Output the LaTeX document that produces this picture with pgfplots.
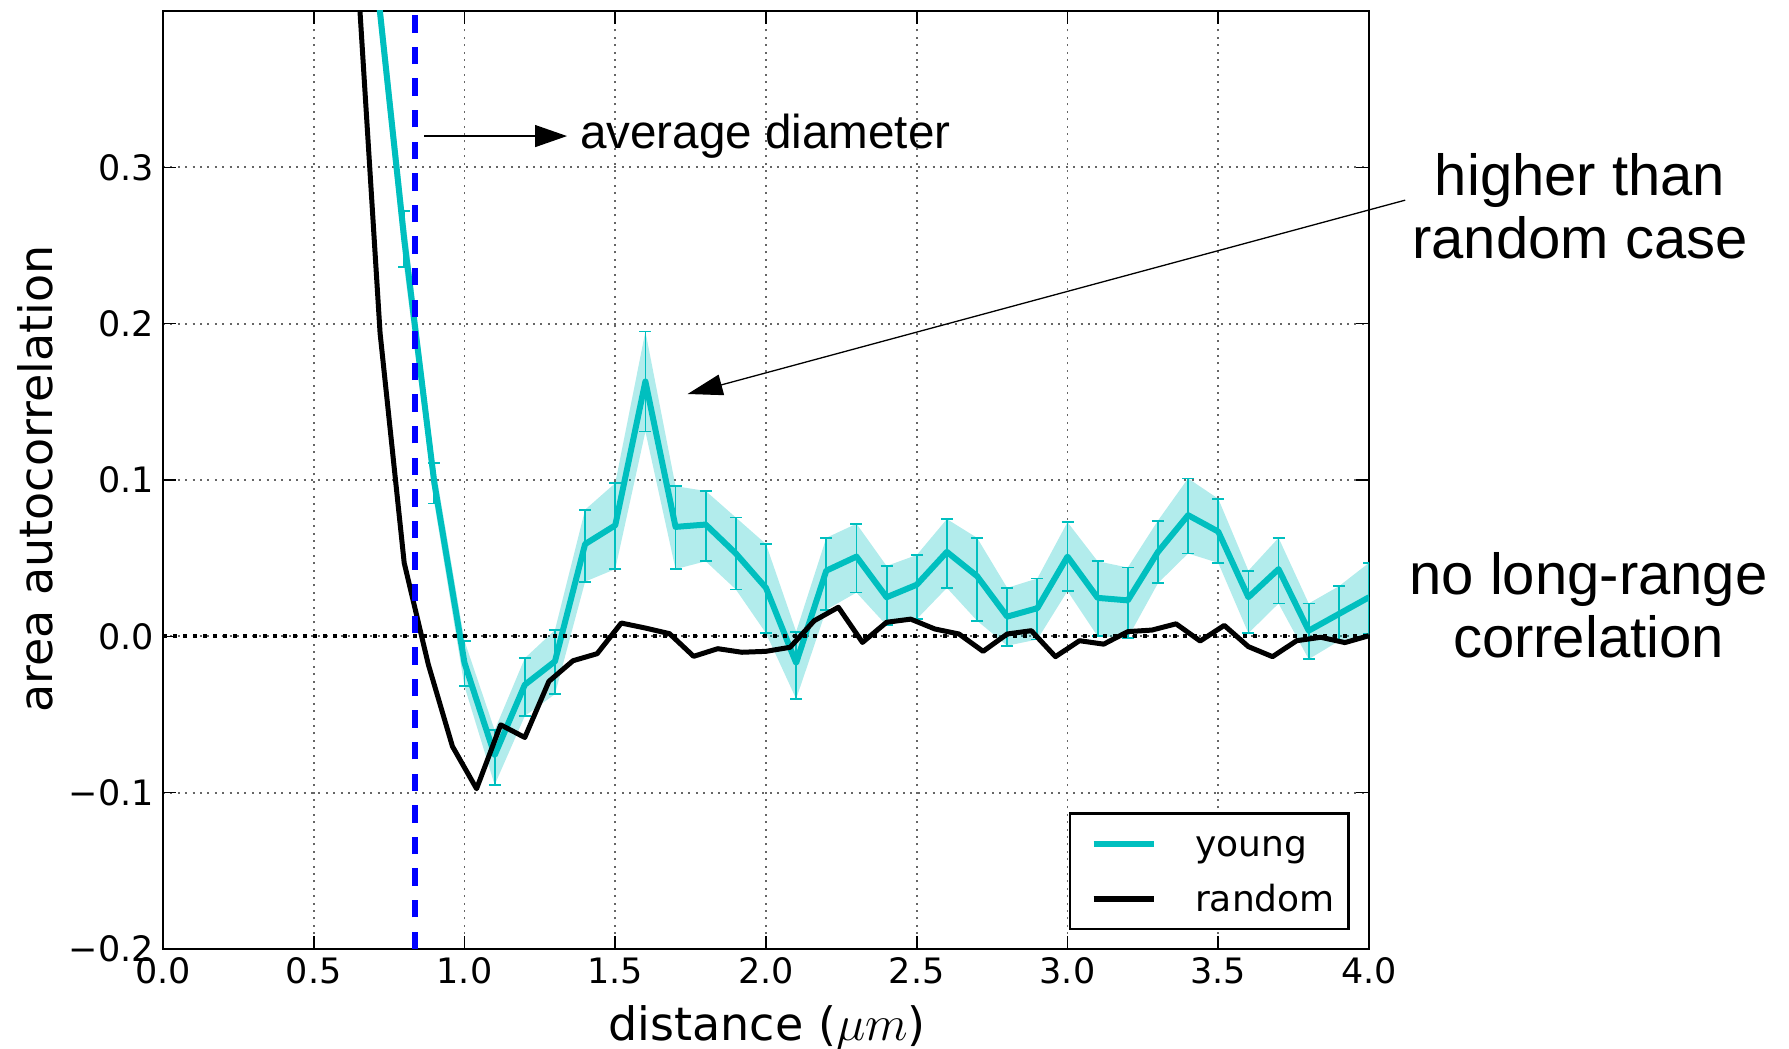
\documentclass[border=0pt]{standalone}
\usepackage{fontspec}
\setmainfont{DejaVu Sans}
\newfontfamily\arial{Liberation Sans}
\usepackage{pgfplots}
\pgfplotsset{compat=1.18}
\usepackage{pgfplotstable}
\usepgfplotslibrary{fillbetween}
\usetikzlibrary{arrows.meta}
\definecolor{mplc}{rgb}{0,0.75,0.75}

\pgfplotstableread{
x y lo hi
0.6 0.620 0.605 0.635
0.7 0.435 0.418 0.452
0.8 0.254 0.236 0.272
0.9 0.098 0.085 0.111
1.0 -0.017 -0.032 -0.003
1.1 -0.076 -0.095 -0.060
1.2 -0.031 -0.051 -0.014
1.3 -0.016 -0.037 0.004
1.4 0.059 0.035 0.081
1.5 0.071 0.043 0.098
1.6 0.163 0.131 0.195
1.7 0.070 0.043 0.096
1.8 0.0715 0.048 0.093
1.9 0.053 0.030 0.076
2.0 0.031 0.002 0.059
2.1 -0.017 -0.040 0.003
2.2 0.042 0.017 0.063
2.3 0.051 0.028 0.072
2.4 0.025 0.007 0.045
2.5 0.033 0.011 0.052
2.6 0.054 0.031 0.075
2.7 0.0385 0.010 0.063
2.8 0.0126 -0.006 0.031
2.9 0.018 -0.002 0.037
3.0 0.051 0.029 0.073
3.1 0.0246 0.000 0.048
3.2 0.023 -0.001 0.044
3.3 0.054 0.034 0.074
3.4 0.0775 0.053 0.101
3.5 0.067 0.047 0.088
3.6 0.025 0.002 0.042
3.7 0.043 0.021 0.063
3.8 0.0036 -0.0146 0.021
3.9 0.0143 -0.003 0.032
4.0 0.025 0.0015 0.047
}\young

\pgfplotstableread{
x y
0.56 0.72
0.64 0.441
0.72 0.194
0.80 0.047
0.88 -0.018
0.96 -0.0704
1.04 -0.0975
1.12 -0.0566
1.20 -0.0647
1.28 -0.0288
1.36 -0.0156
1.44 -0.0111
1.52 0.0085
1.60 0.0053
1.68 0.0017
1.76 -0.0128
1.84 -0.0079
1.92 -0.0102
2.00 -0.0096
2.08 -0.0070
2.16 0.0100
2.24 0.0186
2.32 -0.0039
2.40 0.0090
2.48 0.0110
2.56 0.0047
2.64 0.0015
2.72 -0.0096
2.80 0.0015
2.88 0.0036
2.96 -0.0130
3.04 -0.0028
3.12 -0.0050
3.20 0.0030
3.28 0.0040
3.36 0.0080
3.44 -0.0030
3.52 0.0070
3.60 -0.0066
3.68 -0.0130
3.76 -0.0028
3.84 -0.0006
3.92 -0.0040
4.00 0.0004
}\randtab

\begin{document}
\begin{tikzpicture}
\begin{axis}[
  scale only axis, width=603pt, height=469pt,
  at={(0,0)}, anchor=south west,
  xmin=0, xmax=4, ymin=-0.2, ymax=0.4,
  clip mode=individual,
  xtick={0,0.5,1,1.5,2,2.5,3,3.5,4},
  xticklabels={0.0,0.5,1.0,1.5,2.0,2.5,3.0,3.5,4.0},
  ytick={-0.2,-0.1,0,0.1,0.2,0.3},
  yticklabels={−0.2,−0.1,0.0,0.1,0.2,0.3},
  tick align=inside, tick pos=both,
  major tick length=6.5pt,
  tick style={black, line width=0.8pt},
  axis line style={line width=1.2pt},
  grid=major,
  major grid style={black!60, line width=0.9pt, dash pattern=on 1pt off 2.7pt},
  ticklabel style={font=\fontsize{17.5}{20}\selectfont},
  xticklabel style={yshift=-0.8pt},
  yticklabel style={xshift=-1pt},
  xlabel={distance ($\mu m$)},
  ylabel={area autocorrelation},
  label style={font=\fontsize{23}{26}\selectfont},
  xlabel style={at={(axis description cs:0.501,-0.098)}, anchor=base},
  ylabel style={at={(axis description cs:-0.106,0.501)}, anchor=center},
  legend image code/.code={\path (0pt,0pt); \draw[#1] (5.5pt,0pt) -- (35.5pt,0pt);},
  legend cell align=left,
  legend style={at={(rel axis cs:0.984,0.02)}, anchor=south east,
    draw=black, line width=1.3pt, fill=white,
    font=\fontsize{18}{21}\selectfont,
    inner xsep=4.8pt, inner ysep=5.6pt, row sep=8.4pt,
    nodes={inner xsep=2pt, inner ysep=2pt, text height=14pt, text depth=1pt},
    /tikz/every odd column/.append style={column sep=17.4pt}},
]
\addplot[draw=none, name path=yup, forget plot] table[x=x, y=hi] {\young};
\addplot[draw=none, name path=ylo, forget plot] table[x=x, y=lo] {\young};
\addplot[fill=mplc, fill opacity=0.3, draw=none, forget plot] fill between[of=yup and ylo];

\addplot[mplc, line width=3pt, line join=round, forget plot,
  error bars/.cd, y dir=both, y explicit,
  error bar style={line width=0.9pt, mplc},
  error mark options={rotate=90, mark size=3pt, line width=0.9pt, mplc}]
  table[x=x, y=y, y error plus expr=\thisrow{hi}-\thisrow{y}, y error minus expr=\thisrow{y}-\thisrow{lo}] {\young};

\addplot[black, line width=2.5pt, line join=round, forget plot] table[x=x, y=y] {\randtab};

\addplot[black, line width=2pt, dash pattern=on 2pt off 3pt, forget plot] coordinates {(0,0) (4,0)};

\addplot[blue, line width=3pt, dash pattern=on 8.7pt off 7.1pt, forget plot] coordinates {(0.836,-0.2) (0.836,0.4)};

\addlegendimage{mplc, line width=2.8pt}
\addlegendentry{young}
\addlegendimage{black, line width=2.8pt}
\addlegendentry{random}

\draw[line width=0.65pt, -{Triangle[length=16pt,width=11pt]}] (axis cs:0.867,0.320) -- (axis cs:1.340,0.320);
\node[font=\arial\fontsize{23.8}{28}\selectfont, anchor=base west, inner sep=0pt] at (axis cs:1.382,0.312) {average diameter};
\draw[line width=0.65pt, -{Triangle[length=17.5pt,width=10.5pt]}] (axis cs:4.12,0.279) -- (axis cs:1.74,0.155);
\node[font=\arial\fontsize{29}{31.5}\selectfont, align=center] at (axis cs:4.70,0.275) {higher than\\random case};
\node[font=\arial\fontsize{29}{31.5}\selectfont, align=center] at (axis cs:4.728,0.020) {no long-range\\correlation};
\end{axis}
\pgfresetboundingbox
\path[use as bounding box] (-81.5pt,-50pt) rectangle (813pt,474.5pt);
\end{tikzpicture}
\end{document}
